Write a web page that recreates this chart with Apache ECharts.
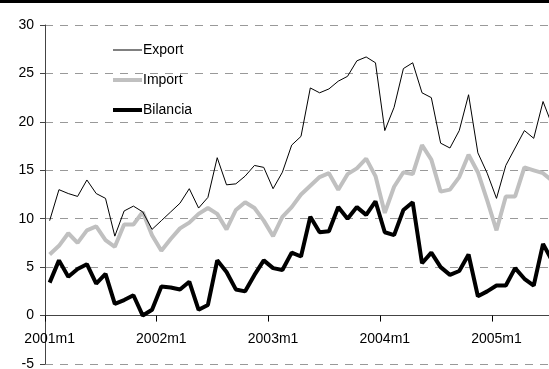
<!DOCTYPE html>
<html>
<head>
<meta charset="utf-8">
<script src="https://cdn.jsdelivr.net/npm/echarts@6/dist/echarts.min.js"></script>
<style>
html,body{margin:0;padding:0;background:#fff;}
#chart{width:549px;height:369px;}
</style>
</head>
<body>
<div id="chart"></div>
<script>
// Months from 2001m1 to 2005m7
const startYear = 2001;
const monthCount = 55;
const categories = [];
for (let k = 0; k < monthCount; k++) {
  categories.push((startYear + Math.floor(k / 12)) + 'm' + (k % 12 + 1));
}

const seriesNames = ['Export', 'Import', 'Bilancia'];

const exportValues = [9.8, 13.0, 12.6, 12.3, 14.0, 12.6, 12.1, 8.2, 10.8, 11.3,
  10.7, 8.9, 9.8, 10.7, 11.6, 13.1, 11.1, 12.2, 16.3, 13.5,
  13.6, 14.4, 15.5, 15.3, 13.1, 14.8, 17.6, 18.5, 23.5, 23.0,
  23.4, 24.2, 24.7, 26.3, 26.7, 26.1, 19.1, 21.5, 25.5, 26.1,
  23.0, 22.5, 17.8, 17.3, 19.1, 22.8, 16.8, 14.7, 12.1, 15.5,
  17.3, 19.1, 18.3, 22.1, 19.6];

const importValues = [6.3, 7.2, 8.5, 7.5, 8.8, 9.2, 7.8, 7.1, 9.4, 9.4,
  10.7, 8.3, 6.7, 7.9, 9.0, 9.6, 10.5, 11.1, 10.5, 8.9,
  10.9, 11.7, 11.1, 9.8, 8.2, 10.2, 11.2, 12.5, 13.4, 14.3,
  14.7, 13.0, 14.6, 15.2, 16.2, 14.4, 10.6, 13.3, 14.8, 14.6,
  17.6, 16.1, 12.8, 13.0, 14.3, 16.6, 14.8, 11.9, 8.8, 12.3,
  12.3, 15.3, 15.0, 14.7, 13.9];

const bilanciaValues = [3.4, 5.7, 4.0, 4.8, 5.3, 3.3, 4.3, 1.2, 1.6, 2.1,
  0.0, 0.6, 3.0, 2.9, 2.7, 3.5, 0.6, 1.1, 5.7, 4.5,
  2.7, 2.5, 4.2, 5.7, 4.9, 4.7, 6.5, 6.1, 10.2, 8.6,
  8.7, 11.2, 10.0, 11.2, 10.4, 11.8, 8.6, 8.3, 10.9, 11.7,
  5.4, 6.5, 5.0, 4.2, 4.6, 6.3, 2.0, 2.5, 3.1, 3.1,
  4.9, 3.8, 3.1, 7.4, 5.6];

const seriesColors = ['#000000', '#c0c0c0', '#000000'];
const seriesWidths = [1, 4, 4];

const yMin = -5, yMax = 30, yStep = 5;
const gridTop = 25, gridBottom = 5, chartHeight = 369;
// shift the category axis up so it sits on the value 0
const zeroOffset = -(chartHeight - gridTop - gridBottom) * (0 - yMin) / (yMax - yMin);

const chart = echarts.init(document.getElementById('chart'), null, {renderer: 'canvas'});
const font = 'Liberation Sans, Arial, sans-serif';

const legendTops = [43, 73, 103];
const legends = seriesNames.map(function (name, k) {
  return {
    left: 113, top: legendTops[k], padding: 0,
    itemWidth: 29, itemHeight: seriesWidths[k], itemGap: 0,
    icon: 'rect',
    textStyle: {fontFamily: font, fontSize: 14, color: '#000', padding: [0, 0, 0, -4]},
    data: [{name: name, icon: 'rect', itemStyle: {color: seriesColors[k]}}]
  };
});

chart.setOption({
  animation: false,
  backgroundColor: '#ffffff',
  graphic: [{
    type: 'rect',
    left: 0, top: 0,
    shape: {width: 549, height: 3},
    style: {fill: '#000'}
  }],
  grid: {left: 45, right: -8, top: gridTop, bottom: gridBottom, containLabel: false, outerBoundsMode: 'none'},
  legend: legends,
  xAxis: {
    type: 'category',
    data: categories,
    boundaryGap: true,
    position: 'bottom',
    offset: zeroOffset,
    axisLine: {onZero: false, lineStyle: {color: '#444', width: 1}},
    axisTick: {show: true, interval: 11, length: 6, inside: false, lineStyle: {color: '#000'}},
    axisLabel: {interval: 11, margin: 17, fontFamily: font, fontSize: 14, color: '#000'},
    splitLine: {show: false}
  },
  yAxis: {
    type: 'value',
    min: yMin, max: yMax, interval: yStep,
    axisLine: {show: true, lineStyle: {color: '#444', width: 1}},
    axisTick: {show: true, length: 5, lineStyle: {color: '#444'}},
    axisLabel: {margin: 11, fontFamily: font, fontSize: 14, color: '#000'},
    splitLine: {show: true, lineStyle: {color: '#999', width: 1, type: [8, 7]}}
  },
  series: seriesNames.map(function (name, k) {
    return {
      name: name, type: 'line',
      data: [exportValues, importValues, bilanciaValues][k],
      symbol: 'none',
      lineStyle: {color: seriesColors[k], width: seriesWidths[k]},
      itemStyle: {color: seriesColors[k]},
      z: [4, 3, 5][k]
    };
  })
});
</script>
</body>
</html>
